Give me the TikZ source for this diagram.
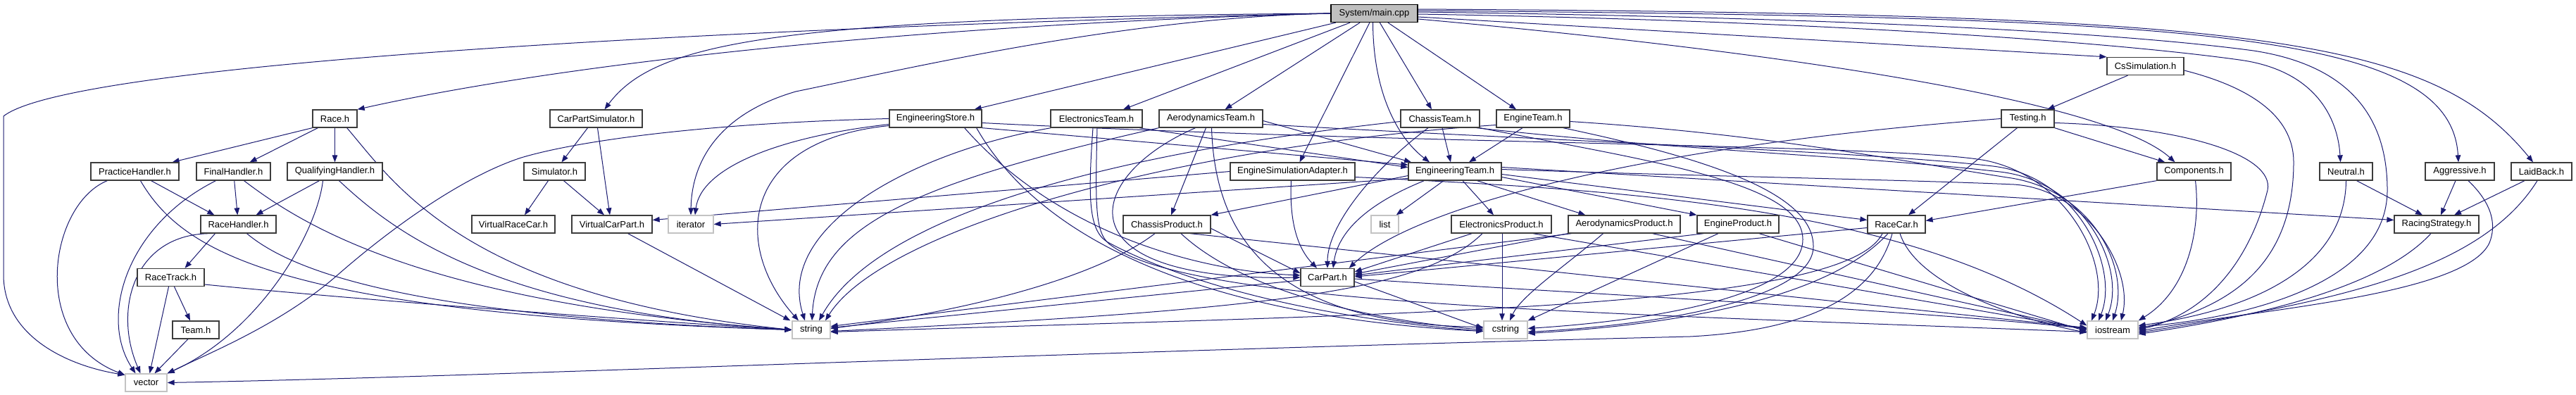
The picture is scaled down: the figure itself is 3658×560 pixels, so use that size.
\documentclass[tikz,border=0pt]{standalone}
\usepackage{fontspec}
\setmainfont{Liberation Sans}
\usetikzlibrary{arrows.meta}
\definecolor{edgecol}{RGB}{25,25,112}
\definecolor{boxcol}{RGB}{60,60,60}
\definecolor{syscol}{RGB}{195,195,195}
\definecolor{maingrey}{RGB}{191,191,191}
\pgfdeclarelayer{edgelayer}
\pgfsetlayers{edgelayer,main}
\tikzset{
 box/.style={draw=boxcol, line width=1.3pt, fill=white, minimum height=25pt, inner sep=0pt, font=\fontsize{13pt}{15pt}\selectfont},
 sys/.style={box, draw=syscol},
 dep/.style={draw=edgecol, line width=1pt, -{Triangle[length=10pt,width=7.5pt]}},
}
\begin{document}
\begin{tikzpicture}[x=1pt,y=1pt]
\useasboundingbox (0,0) rectangle (3658,-560);
% nodes
\node[box,fill=maingrey,draw=black,minimum width=123pt] (main) at (1951.5,-19) {System/main.cpp};
\node[box,minimum width=63pt] (race) at (475.5,-168.5) {Race.h};
\node[box,minimum width=125pt] (practice) at (191.5,-243.5) {PracticeHandler.h};
\node[box,minimum width=105pt] (final) at (331.5,-243.5) {FinalHandler.h};
\node[box,minimum width=135pt] (qualify) at (475.5,-243.5) {QualifyingHandler.h};
\node[box,minimum width=107pt] (rhandler) at (338.5,-318.5) {RaceHandler.h};
\node[box,minimum width=95pt] (rtrack) at (242.5,-394) {RaceTrack.h};
\node[box,minimum width=66pt] (team) at (278,-468.5) {Team.h};
\node[sys,minimum width=59pt] (vector) at (207.5,-543.5) {vector};
\node[box,minimum width=131pt] (cpsim) at (846.5,-168.5) {CarPartSimulator.h};
\node[box,minimum width=87pt] (simulator) at (787.5,-243.5) {Simulator.h};
\node[box,minimum width=118pt] (vrcar) at (729,-318.5) {VirtualRaceCar.h};
\node[box,minimum width=114pt] (vcpart) at (869,-318.5) {VirtualCarPart.h};
\node[sys,minimum width=64pt] (iterator) at (981,-318.5) {iterator};
\node[sys,minimum width=54pt] (string) at (1152,-468.5) {string};
\node[box,minimum width=131pt] (estore) at (1328.5,-168.5) {EngineeringStore.h};
\node[box,minimum width=130pt] (elteam) at (1557,-168.5) {ElectronicsTeam.h};
\node[box,minimum width=147pt] (aeteam) at (1719.5,-168.5) {AerodynamicsTeam.h};
\node[box,minimum width=124pt] (chprod) at (1657,-318.5) {ChassisProduct.h};
\node[box,minimum width=177pt] (esadapter) at (1835.5,-243.5) {EngineSimulationAdapter.h};
\node[box,minimum width=112pt] (chteam) at (2045,-168.5) {ChassisTeam.h};
\node[box,minimum width=104pt] (enteam) at (2177,-168.5) {EngineTeam.h};
\node[box,minimum width=132pt] (eng) at (2066,-243.5) {EngineeringTeam.h};
\node[sys,minimum width=39pt] (list) at (1966.5,-318.5) {list};
\node[box,minimum width=142pt] (elprod) at (2132,-318.5) {ElectronicsProduct.h};
\node[box,minimum width=76pt] (carpart) at (1885,-394) {CarPart.h};
\node[sys,minimum width=62pt] (cstring) at (2138,-468.5) {cstring};
\node[box,minimum width=159pt] (aeprod) at (2306.5,-318.5) {AerodynamicsProduct.h};
\node[box,minimum width=116pt] (enprod) at (2468,-318.5) {EngineProduct.h};
\node[box,minimum width=82pt] (racecar) at (2693,-318.5) {RaceCar.h};
\node[box,minimum width=109pt] (cssim) at (3046.5,-94) {CsSimulation.h};
\node[box,minimum width=75pt] (testing) at (2879.5,-168.5) {Testing.h};
\node[box,minimum width=105pt] (components) at (3115.5,-243.5) {Components.h};
\node[sys,minimum width=72pt] (iostream) at (3000,-468.5) {iostream};
\node[box,minimum width=75pt] (neutral) at (3331.5,-243.5) {Neutral.h};
\node[box,minimum width=98pt] (aggressive) at (3493,-243.5) {Aggressive.h};
\node[box,minimum width=86pt] (laidback) at (3609,-243.5) {LaidBack.h};
\node[box,minimum width=120pt] (rstrat) at (3460,-318.5) {RacingStrategy.h};
\begin{pgfonlayer}{edgelayer}
\fill[white] (0,0) rectangle (3658,-560);
% ---- edges from main
\draw[dep] (main.west) .. controls (1000,-40) and (100,-90) .. (5,-165) -- (5,-390) .. controls (5,-480) and (100,-520) .. (vector.160);
\draw[dep] (main.west) .. controls (1300,-35) and (800,-90) .. (race.north east);
\draw[dep] (main.west) .. controls (1100,-25) and (930,-60) .. ([xshift=12pt]cpsim.north);
\draw[dep] (main.west) .. controls (1600,-25) and (1300,-95) .. (1130,-130) .. controls (1010,-165) and (982,-240) .. (iterator.north);
\draw[dep] (main) -- ([xshift=-11pt]estore.north east);
\draw[dep] (main) -- ([xshift=38pt]elteam.north);
\draw[dep] (main) -- ([xshift=20pt]aeteam.north);
\draw[dep] (main) -- ([xshift=10pt]esadapter.north);
\draw[dep] ([xshift=-2pt]main.south) .. controls (1950,-140) and (1990,-200) .. ([xshift=-36pt]eng.north);
\draw[dep] (main) -- ([xshift=-12pt]chteam.north);
\draw[dep] (main) -- ([xshift=-24pt]enteam.north);
\draw[dep] ([yshift=-5pt]main.east) -- (cssim.north west);
\draw[dep] ([yshift=-8pt]main.east) .. controls (2600,-80) and (3000,-150) .. ([xshift=-27pt]components.north);
\draw[dep] ([yshift=-1pt]main.east) .. controls (2600,-30) and (3000,-60) .. (3180,-85) .. controls (3290,-100) and (3320,-170) .. ([xshift=-8pt]neutral.north);
\draw[dep] ([yshift=4pt]main.east) .. controls (3100,-25) and (3480,-40) .. ([xshift=-2pt]aggressive.north);
\draw[dep] ([yshift=6pt]main.east) .. controls (3200,-20) and (3450,-50) .. ([xshift=-12pt]laidback.north);
\draw[dep] ([yshift=2pt]main.east) .. controls (2600,-25) and (3000,-45) .. (3200,-72) .. controls (3350,-95) and (3390,-180) .. (3390,-270) .. controls (3390,-400) and (3200,-450) .. ([yshift=4pt]iostream.east);
% ---- left cluster
\draw[dep] (race.south west) -- ([xshift=-10pt]practice.north east);
\draw[dep] ([xshift=8pt]race.south west) -- ([xshift=-30pt]final.north east);
\draw[dep] (race) -- (qualify);
\draw[dep] ([xshift=-15pt]race.south east) .. controls (560,-260) and (660,-420) .. (string.west);
\draw[dep] ([xshift=24pt]practice.south west) .. controls (70,-290) and (40,-480) .. (vector.160);
\draw[dep] ([xshift=-40pt]practice.south east) -- ([xshift=20pt]rhandler.north west);
\draw[dep] ([xshift=8pt]practice.south) .. controls (260,-360) and (400,-445) .. (string.west);
\draw[dep] ([xshift=-25pt]final.south) .. controls (180,-320) and (140,-450) .. ([xshift=-15pt]vector.north);
\draw[dep] (final) -- (rhandler);
\draw[dep] ([xshift=15pt]final.south) .. controls (430,-320) and (600,-430) .. (string.west);
\draw[dep] ([xshift=-22pt]qualify.south) -- ([xshift=25pt]rhandler.north);
\draw[dep] ([xshift=-17pt]qualify.south) .. controls (450,-330) and (370,-470) .. (vector.north east);
\draw[dep] ([xshift=6pt]qualify.south) .. controls (560,-330) and (700,-440) .. (string.west);
\draw[dep] (rhandler.200) .. controls (190,-330) and (160,-440) .. ([xshift=-8pt]vector.north);
\draw[dep] ([xshift=-33pt]rhandler.south) -- ([xshift=20pt]rtrack.north);
\draw[dep] ([xshift=12pt]rhandler.south) .. controls (420,-390) and (600,-450) .. (string.west);
\draw[dep] ([xshift=-3pt]rtrack.south) -- ([xshift=5pt]vector.north);
\draw[dep] ([xshift=5pt]rtrack.south) -- ([xshift=-8pt]team.north);
\draw[dep] ([yshift=-10pt]rtrack.east) .. controls (500,-425) and (900,-455) .. (string.west);
\draw[dep] ([xshift=-11pt]team.south) -- ([xshift=12pt]vector.north);
% ---- simulator cluster
\draw[dep] ([xshift=-12pt]cpsim.south) -- ([xshift=10pt]simulator.north);
\draw[dep] ([xshift=2pt]cpsim.south) -- ([xshift=-3pt]vcpart.north);
\draw[dep] ([xshift=-9pt]simulator.south) -- ([xshift=16pt]vrcar.north);
\draw[dep] ([xshift=13pt]simulator.south) -- ([xshift=-11pt]vcpart.north);
\draw[dep] ([xshift=-35pt]vcpart.south east) -- ([xshift=-2pt]string.north west);
% ---- engineering store
\draw[dep] (estore.west) .. controls (1000,-175) and (820,-200) .. (740,-224) .. controls (660,-250) and (560,-320) .. (480,-390) .. controls (400,-460) and (300,-500) .. (vector.north east);
\draw[dep] ([yshift=-8pt]estore.west) .. controls (1100,-195) and (995,-240) .. ([xshift=6pt]iterator.north);
\draw[dep] ([yshift=-10pt]estore.west) .. controls (1050,-200) and (1040,-350) .. ([xshift=-18pt]string.north);
\draw[dep] (estore.south east) -- (eng.172);
\draw[dep] ([xshift=-25pt]estore.south east) .. controls (1500,-330) and (1700,-385) .. ([yshift=3pt]carpart.west);
\draw[dep] ([xshift=-8pt]estore.south east) .. controls (1500,-380) and (1800,-455) .. ([yshift=-2pt]cstring.west);
\draw[dep] ([yshift=-6pt]estore.east) .. controls (2000,-205) and (2700,-205) .. (2820,-228) .. controls (2940,-253) and (3000,-380) .. ([xshift=-30pt]iostream.north);
% ---- teams
\draw[dep] ([xshift=-5pt]elteam.south east) -- (eng.175);
\draw[dep] ([xshift=1pt]elteam.south west) .. controls (1300,-215) and (1100,-320) .. ([xshift=-9pt]string.north);
\draw[dep] ([xshift=-5pt]elteam.south) .. controls (1545,-280) and (1545,-330) .. (1575,-345) .. controls (1640,-380) and (1800,-445) .. ([yshift=-2pt]cstring.west);
\draw[dep] ([xshift=1pt]elteam.south) .. controls (1555,-300) and (1555,-335) .. (1580,-350) .. controls (1700,-435) and (2300,-445) .. ([yshift=-3pt]iostream.west);
\draw[dep] ([yshift=-3pt]aeteam.east) -- (eng.168);
\draw[dep] ([xshift=-7pt]aeteam.south) -- ([xshift=6pt]chprod.north);
\draw[dep] (aeteam.south west) .. controls (1300,-260) and (1160,-320) .. ([xshift=1pt]string.north);
\draw[dep] ([xshift=-22pt]aeteam.south) .. controls (1540,-250) and (1500,-400) .. (carpart.west);
\draw[dep] ([xshift=1pt]aeteam.south) .. controls (1725,-330) and (1800,-460) .. ([yshift=4pt]cstring.west);
\draw[dep] ([yshift=-8pt]aeteam.east) .. controls (2200,-200) and (2650,-215) .. (2830,-236) .. controls (2950,-250) and (3010,-380) .. ([xshift=-20pt]iostream.north);
\draw[dep] ([xshift=3pt]chteam.south) -- ([xshift=-6pt]eng.north);
\draw[dep] ([yshift=-4pt]chteam.west) .. controls (1600,-215) and (1250,-300) .. ([xshift=11pt]string.north);
\draw[dep] ([xshift=-17pt]chteam.south) .. controls (1950,-240) and (1885,-320) .. (carpart.north);
\draw[dep] (chteam.south east) .. controls (2350,-230) and (2560,-260) .. (2560,-340) .. controls (2560,-420) and (2350,-455) .. ([yshift=2pt]cstring.east);
\draw[dep] ([xshift=-5pt]chteam.south east) .. controls (2400,-215) and (2650,-222) .. (2840,-244) .. controls (2960,-258) and (3020,-380) .. ([xshift=-10pt]iostream.north);
\draw[dep] ([xshift=-15pt]enteam.south) -- ([xshift=20pt]eng.north);
\draw[dep] ([yshift=-9pt]enteam.west) .. controls (1650,-210) and (1250,-330) .. ([xshift=20pt]string.north);
\draw[dep] ([xshift=-10pt]enteam.south east) .. controls (2450,-230) and (2575,-280) .. (2575,-350) .. controls (2575,-420) and (2380,-460) .. ([yshift=-3pt]cstring.east);
\draw[dep] ([yshift=-4pt]enteam.east) .. controls (2500,-190) and (2680,-225) .. (2850,-252) .. controls (2970,-268) and (3025,-380) .. (iostream.north);
% ---- engineering team
\draw[dep] ([yshift=-10pt]eng.west) -- (iterator.east);
\draw[dep] ([yshift=-6pt]eng.west) -- (chprod.north east);
\draw[dep] ([xshift=-16pt]eng.south) -- ([xshift=-4pt]list.north east);
\draw[dep] ([xshift=11pt]eng.south) -- ([xshift=-11pt]elprod.north);
\draw[dep] ([xshift=-35pt]eng.south east) -- ([xshift=25pt]aeprod.north west);
\draw[dep] ([yshift=-8pt]eng.east) -- (enprod.north west);
\draw[dep] ([yshift=-4pt]eng.east) -- ([yshift=6pt]racecar.west);
\draw[dep] ([yshift=6pt]eng.east) -- ([yshift=6pt]rstrat.west);
\draw[dep] ([xshift=23pt]eng.south west) .. controls (1940,-290) and (1900,-330) .. ([xshift=8pt]carpart.north);
\draw[dep] ([yshift=3pt]eng.east) .. controls (2400,-250) and (2700,-255) .. (2860,-262) .. controls (2960,-268) and (3030,-380) .. ([xshift=12pt]iostream.north);
% ---- adapter
\draw[dep] (esadapter.west) -- ([yshift=6pt]vcpart.east);
\draw[dep] ([xshift=-2pt]esadapter.south) .. controls (1830,-330) and (1850,-360) .. ([xshift=-15pt]carpart.north);
\draw[dep] ([yshift=-8pt]esadapter.east) .. controls (2300,-270) and (2700,-290) .. ([yshift=6pt]iostream.west);
% ---- products
\draw[dep] ([yshift=-6pt]chprod.east) -- ([yshift=6pt]carpart.west);
\draw[dep] ([xshift=-17pt]chprod.south) .. controls (1550,-400) and (1350,-445) .. ([yshift=2pt]string.east);
\draw[dep] ([xshift=20pt]chprod.south) .. controls (1750,-400) and (1900,-450) .. (cstring.west);
\draw[dep] ([xshift=33pt]chprod.south) -- ([yshift=3pt]iostream.west);
\draw[dep] ([xshift=-42pt]elprod.south) -- ([yshift=8pt]carpart.east);
\draw[dep] ([xshift=-27pt]elprod.south) .. controls (2020,-415) and (1800,-440) .. ([yshift=-2pt]string.east);
\draw[dep] ([xshift=1pt]elprod.south) -- ([xshift=-5pt]cstring.north);
\draw[dep] ([xshift=45pt]elprod.south) -- ([yshift=1pt]iostream.west);
\draw[dep] (aeprod.south west) -- ([yshift=5pt]carpart.east);
\draw[dep] ([xshift=-75pt]aeprod.south) -- ([yshift=5pt]string.east);
\draw[dep] ([xshift=-30pt]aeprod.south) .. controls (2220,-380) and (2160,-420) .. ([xshift=6pt]cstring.north);
\draw[dep] ([xshift=40pt]aeprod.south) -- (iostream.west);
\draw[dep] ([xshift=10pt]enprod.south west) -- ([yshift=3pt]carpart.east);
\draw[dep] ([xshift=-28pt]enprod.south) -- (cstring.north east);
\draw[dep] ([xshift=30pt]enprod.south) -- ([yshift=-2pt]iostream.west);
% ---- car part
\draw[dep] ([yshift=-4pt]carpart.west) -- ([yshift=3pt]string.east);
\draw[dep] ([yshift=-6pt]carpart.east) -- ([yshift=2pt]cstring.west);
\draw[dep] ([yshift=-2pt]carpart.east) .. controls (2300,-420) and (2700,-440) .. ([yshift=2pt]iostream.west);
% ---- race car
\draw[dep] ([yshift=-5pt]racecar.west) -- ([yshift=1pt]carpart.east);
\draw[dep] ([xshift=-6pt]racecar.south) .. controls (2660,-430) and (2550,-470) .. (2400,-478) .. controls (1500,-500) and (700,-535) .. (vector.east);
\draw[dep] ([xshift=-20pt]racecar.south) .. controls (2620,-440) and (2000,-445) .. ([yshift=-3pt]string.east);
\draw[dep] ([xshift=-12pt]racecar.south) .. controls (2600,-420) and (2400,-460) .. ([yshift=-5pt]cstring.east);
\draw[dep] ([xshift=5pt]racecar.south) .. controls (2720,-400) and (2850,-450) .. ([yshift=-4pt]iostream.west);
% ---- testing cluster
\draw[dep] ([xshift=-25pt]cssim.south) -- ([xshift=28pt]testing.north);
\draw[dep] ([yshift=-6pt]cssim.east) .. controls (3220,-130) and (3257,-180) .. (3257,-230) .. controls (3257,-390) and (3150,-440) .. ([yshift=2pt]iostream.east);
\draw[dep] (testing.west) .. controls (2300,-210) and (2000,-300) .. ([xshift=-8pt]carpart.north east);
\draw[dep] ([xshift=-15pt]testing.south) -- ([xshift=17pt]racecar.north);
\draw[dep] (testing.south east) -- ([xshift=12pt]components.north west);
\draw[dep] ([yshift=-6pt]testing.east) .. controls (3100,-180) and (3230,-220) .. (3220,-270) .. controls (3200,-350) and (3150,-440) .. (iostream.east);
\draw[dep] (components.south west) -- ([yshift=5pt]racecar.east);
\draw[dep] ([xshift=2pt]components.south) .. controls (3125,-320) and (3110,-410) .. (iostream.north east);
% ---- strategies
\draw[dep] ([xshift=15pt]neutral.south) -- ([xshift=-20pt]rstrat.north);
\draw[dep] ([xshift=-6pt]aggressive.south) -- ([xshift=6pt]rstrat.north);
\draw[dep] ([xshift=-24pt]laidback.south) -- ([xshift=25pt]rstrat.north);
\draw[dep] (neutral.south) .. controls (3330,-380) and (3200,-440) .. ([yshift=6pt]iostream.east);
\draw[dep] ([xshift=12pt]aggressive.south) .. controls (3540,-290) and (3545,-320) .. (3535,-345) .. controls (3500,-420) and (3200,-440) .. ([yshift=-2pt]iostream.east);
\draw[dep] ([xshift=-6pt]laidback.south) .. controls (3520,-390) and (3300,-430) .. ([yshift=-4pt]iostream.east);
\draw[dep] ([xshift=-8pt]rstrat.south) .. controls (3380,-410) and (3200,-450) .. ([yshift=-6pt]iostream.east);
\end{pgfonlayer}
\end{tikzpicture}
\end{document}
